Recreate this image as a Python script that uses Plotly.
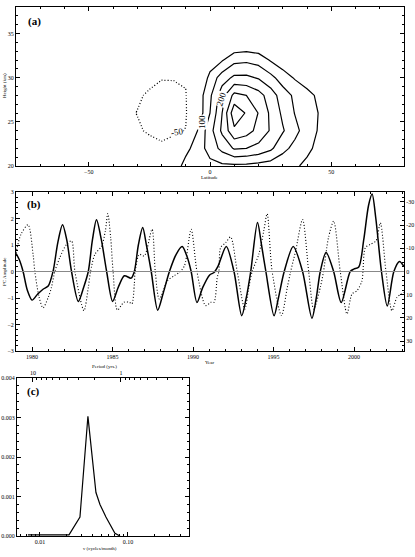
import plotly.graph_objects as go

# ---------------- Panel (a): contour field ----------------
LAT = [-80, -60, -40, -35, -30, -25, -20, -15, -10, -5, 0, 5, 10, 15, 20, 25, 30, 35, 40, 45, 50, 60, 80]
HGT = [20, 22, 24, 26, 28, 30, 32, 34, 36, 38]
Z_h20 = [10, 10, 5, 0, -10, -15, -15, 70, 118, 128, 135, 140, 140, 138, 132, 125, 115, 105, 92, 75, 60, 35, 15]
Z_h22 = [10, 5, -5, -15, -25, -35, -40, -25, 85, 125, 170, 215, 255, 250, 235, 210, 165, 135, 108, 90, 70, 40, 15]
Z_h24 = [10, 0, -20, -35, -45, -55, -65, -60, -48, 105, 180, 260, 340, 320, 285, 245, 205, 165, 125, 95, 80, 45, 15]
Z_h26 = [5, -5, -30, -42, -51, -65, -75, -70, -58, 65, 150, 250, 385, 345, 298, 240, 190, 148, 122, 98, 78, 45, 15]
Z_h28 = [5, -5, -25, -38, -45, -55, -68, -65, -55, 70, 140, 230, 315, 300, 270, 225, 175, 140, 115, 90, 70, 40, 15]
Z_h30 = [5, 0, -15, -25, -32, -40, -47, -47, -42, 40, 115, 175, 210, 210, 195, 165, 125, 95, 75, 60, 45, 30, 10]
Z_h32 = [5, 0, -8, -12, -18, -22, -25, -25, -20, 20, 70, 95, 135, 140, 130, 95, 70, 55, 45, 35, 30, 20, 10]
Z_h34 = [5, 0, -5, -8, -10, -12, -12, -10, -5, 10, 30, 45, 50, 55, 50, 40, 35, 30, 28, 25, 20, 15, 10]
Z_h36 = [5, 0, -3, -5, -5, -5, -5, -3, 0, 5, 15, 22, 25, 28, 25, 22, 20, 18, 16, 15, 12, 10, 8]
Z_h38 = [5, 0, 0, 0, 0, 0, 0, 0, 2, 5, 10, 12, 15, 15, 15, 12, 12, 10, 10, 10, 8, 8, 5]
ZGRID = [Z_h20, Z_h22, Z_h24, Z_h26, Z_h28, Z_h30, Z_h32, Z_h34, Z_h36, Z_h38]
CONTOUR_LABELS = ["100", "200", "-50"]

# ---------------- Panel (b): time series ----------------
PC_YEAR = [1979.0, 1979.2, 1979.44, 1979.7, 1980.0, 1980.35, 1980.68, 1981.0, 1981.3, 1981.6, 1981.89,
           1982.15, 1982.45, 1982.87, 1983.2, 1983.49, 1983.75, 1984.0, 1984.3, 1984.63, 1985.0, 1985.35,
           1985.73, 1986.15, 1986.35, 1986.6, 1986.87, 1987.1, 1987.4, 1987.8, 1988.15, 1988.53, 1988.95,
           1989.32, 1989.6, 1989.88, 1990.24, 1990.6, 1991.03, 1991.3, 1991.55, 1992.06, 1992.54, 1993.02,
           1993.3, 1993.58, 1994.0, 1994.25, 1994.52, 1995.03, 1995.3, 1995.66, 1996.22, 1996.8, 1997.38,
           1997.65, 1997.9, 1998.26, 1998.73, 1999.2, 1999.76, 1999.98, 2000.29, 2000.6, 2000.9, 2001.12,
           2001.35, 2001.7, 2002.06, 2002.47, 2002.82, 2003.08]
PC_AMP = [0.68, 0.45, 0.0, -0.7, -1.08, -0.85, -0.67, -0.55, 0.0, 1.1, 1.76,
          1.2, 0.0, -1.13, -0.6, 0.0, 1.2, 1.95, 1.2, 0.0, -1.13, -0.6,
          -0.16, -0.25, 0.0, 1.0, 1.66, 1.0, 0.0, -1.46, -0.8, 0.0, 0.65,
          0.94, 0.6, 0.0, -1.17, -0.6, -0.13, -0.04, 0.2, 0.94, 0.0, -1.67,
          -1.0, 0.0, 1.85, 1.0, 0.0, -1.67, -1.0, 0.0, 0.94, 0.0, -1.76,
          -1.0, 0.0, 0.72, 0.0, -1.17, 0.0, 0.09, 0.17, 1.2, 2.5, 2.92,
          2.0, 0.0, -1.3, 0.0, 0.38, 0.2]

IDX_YEAR = [1979.0, 1979.3, 1979.75, 1980.06, 1980.17, 1980.44, 1980.68, 1981.0, 1981.2, 1981.41, 1981.72,
            1982.14, 1982.45, 1982.66, 1983.22, 1983.49, 1983.63, 1983.9, 1984.32, 1984.55, 1984.7,
            1984.88, 1985.03, 1985.3, 1985.7, 1986.04, 1986.2, 1986.35, 1986.4, 1986.66, 1986.97, 1987.45,
            1987.65, 1987.9, 1988.41, 1988.83, 1989.14, 1989.46, 1989.88, 1990.24, 1990.78, 1991.1, 1991.3,
            1991.5, 1991.6, 1991.71, 1992.02, 1992.33, 1992.74, 1993.21, 1993.46, 1993.67, 1994.08, 1994.39,
            1994.6, 1994.91, 1995.49, 1995.85, 1996.06, 1996.37, 1996.8, 1997.18, 1997.49, 1997.9, 1998.1,
            1998.41, 1998.73, 1999.14, 1999.56, 1999.87, 2000.18, 2000.49, 2000.55, 2000.7, 2001.0, 2001.36,
            2001.63, 2001.98, 2002.35, 2002.66, 2002.93, 2003.08]
IDX_VAL = [-8, -15.9, -20.2, -7.4, 0, 11.2, 15.7, 11.2, 6.9, 0, -6,
           -11.7, -13.2, 0, 16.9, 6.9, 0, -7.4, -11, -17.5, -25,
           -14.6, 0, 16.6, 13.3, 13.3, 14, 5.4, 0, -7.4, -6.7, -18.2,
           0, 11.9, 4, 1.8, 0.4, -2.4, -18.2, 0, 14.7, 13.3, 13.3,
           2.6, 0, -10.3, -12.4, -14.9, 0, 16.2, 6.9, 0, -7.4, -17.5,
           -24.9, 0, 19, 6.9, 0, -8.9, -22.4, 0, 16.2, 6.9, 0,
           -14.6, -21.7, 0, 18.3, 9.7, 8.3, 4, 0, -10.3, -11.7, -13.2,
           -21, 0, 16.9, 11.2, 9.7, 9]

# ---------------- Panel (c): spectrum ----------------
FREQ = [0.0073, 0.0214, 0.0285, 0.0351, 0.0433, 0.0481, 0.0562, 0.0711, 0.0812]
POWER = [0.00003, 0.00003, 0.00048, 0.00303, 0.0011, 0.0008, 0.00048, 0.00007, 0.0]

PERIOD_TICKS = [10, 1]
PERIOD_MINOR = [9, 8, 7, 6, 5, 4, 3, 2, 0.9, 0.8, 0.7, 0.6, 0.5, 0.4, 0.3, 0.2]

W, H = 415, 557
SERIF = "Liberation Serif, Times New Roman, serif"
TF = dict(family=SERIF, size=6, color="black")


def dom_x(a, b):
    return [a / W, b / W]


def dom_y(top, bottom):
    return [1 - bottom / H, 1 - top / H]


fig = go.Figure()


def contour(start, end, size, dash):
    return go.Contour(
        x=LAT, y=HGT, z=ZGRID, xaxis="x", yaxis="y",
        autocontour=False,
        contours=dict(coloring="none", start=start, end=end, size=size, showlabels=False),
        line=dict(color="black", width=1.2, dash=dash, smoothing=0),
        showscale=False, hoverinfo="skip")


fig.add_trace(contour(100, 350, 50, "solid"))
fig.add_trace(contour(-50, -50, 50, "1px,2px"))

fig.add_trace(go.Scatter(x=PC_YEAR, y=PC_AMP, mode="lines", xaxis="x2", yaxis="y2",
                         line=dict(color="black", width=1.5, shape="spline", smoothing=0.8),
                         hoverinfo="skip"))
fig.add_trace(go.Scatter(x=IDX_YEAR, y=IDX_VAL, mode="lines", xaxis="x2", yaxis="y3",
                         line=dict(color="black", width=1.1, dash="1px,2px", shape="spline", smoothing=0.8),
                         hoverinfo="skip"))

fig.add_trace(go.Scatter(x=FREQ, y=POWER, mode="lines", xaxis="x3", yaxis="y4",
                         line=dict(color="black", width=1.2), hoverinfo="skip"))
# invisible trace so the top (period) axis of panel (c) is drawn
fig.add_trace(go.Scatter(x=FREQ, y=POWER, mode="lines", xaxis="x4", yaxis="y4",
                         line=dict(color="rgba(0,0,0,0)", width=0), hoverinfo="skip"))

base = dict(showgrid=False, zeroline=False, showline=True, linecolor="black", linewidth=1,
            ticks="inside", ticklen=4, tickcolor="black", tickwidth=1, tickfont=TF,
            automargin=False)

layout = dict(
    width=W, height=H, margin=dict(l=0, r=0, t=0, b=0),
    paper_bgcolor="white", plot_bgcolor="white", showlegend=False,
    font=dict(family=SERIF, color="black"),
    xaxis=dict(base, domain=dom_x(16, 404), anchor="y", range=[-80, 80],
               tickvals=[-50, 0, 50], mirror="ticks",
               minor=dict(ticks="inside", dtick=10, ticklen=2, tickcolor="black")),
    yaxis=dict(base, domain=dom_y(7, 166), anchor="x", range=[20, 38],
               tickvals=[20, 25, 30, 35], mirror="ticks",
               minor=dict(ticks="inside", dtick=1, ticklen=2, tickcolor="black")),
    xaxis2=dict(base, domain=dom_x(16, 404), anchor="y2", range=[1979.0, 2003.1],
                tickvals=[1980, 1985, 1990, 1995, 2000], mirror="ticks",
                minor=dict(ticks="inside", dtick=1, ticklen=2, tickcolor="black")),
    yaxis2=dict(base, domain=dom_y(192, 351), anchor="x2", range=[-3, 3],
                tickvals=[-3, -2, -1, 0, 1, 2, 3], mirror=True,
                minor=dict(ticks="inside", dtick=0.2, ticklen=2, tickcolor="black")),
    yaxis3=dict(base, overlaying="y2", anchor="x2", side="right", range=[34.3, -34.3],
                tickvals=[-30, -20, -10, 0, 10, 20, 30],
                ticktext=["-30", "-20", "-10", "0", "10", "20", "30"],
                minor=dict(ticks="inside", dtick=2, ticklen=2, tickcolor="black")),
    xaxis3=dict(base, domain=dom_x(17, 189), anchor="y4", type="log", range=[-2.26, -0.307],
                tickvals=[0.01, 0.1], ticktext=["0.01", "0.10"],
                minor=dict(ticks="inside", ticklen=2, tickcolor="black",
                           tickvals=[0.006, 0.007, 0.008, 0.009, 0.02, 0.03, 0.04, 0.05, 0.06,
                                     0.07, 0.08, 0.09, 0.2, 0.3, 0.4])),
    xaxis4=dict(base, overlaying="x3", anchor="y4", side="top", type="log", range=[-2.26, -0.307],
                tickvals=[1 / (12 * p) for p in PERIOD_TICKS],
                ticktext=[str(p) for p in PERIOD_TICKS], ticklabelstandoff=0,
                minor=dict(ticks="inside", ticklen=2, tickcolor="black",
                           tickvals=[1 / (12 * p) for p in PERIOD_MINOR])),
    yaxis4=dict(base, domain=dom_y(378, 536), anchor="x3", range=[0, 0.004],
                tickvals=[0, 0.001, 0.002, 0.003, 0.004],
                ticktext=["0.000", "0.001", "0.002", "0.003", "0.004"], mirror="ticks",
                minor=dict(ticks="inside", dtick=0.0002, ticklen=2, tickcolor="black")),
)
fig.update_layout(**layout)

# zero reference line in (b)
fig.add_shape(type="line", xref="x2 domain", yref="y2", x0=0, x1=1, y0=0, y1=0,
              line=dict(color="#888888", width=1.2))

ann = []


def txt(x, y, s, size=6, bold=False, angle=0):
    ann.append(dict(x=x / W, y=1 - y / H, xref="paper", yref="paper", text=("<b>%s</b>" % s) if bold else s,
                    showarrow=False, textangle=angle, xanchor="center", yanchor="middle",
                    font=dict(family=SERIF, size=size, color="black")))


def clabel(lat, hgt, s, angle):
    ann.append(dict(x=lat, y=hgt, xref="x", yref="y", text=s, showarrow=False, textangle=angle,
                    xanchor="center", yanchor="middle", bgcolor="white", borderpad=0,
                    font=dict(family=SERIF, size=9, color="black")))


clabel(-3.2, 25.0, CONTOUR_LABELS[0], -90)
clabel(4.6, 27.6, CONTOUR_LABELS[1], -72)
clabel(-13.5, 23.8, CONTOUR_LABELS[2], -10)

txt(34, 22, "(a)", 11, True)
txt(34, 205, "(b)", 11, True)
txt(33, 391, "(c)", 11, True)
txt(210, 177, "Latitude", 5)
txt(4, 86, "Height (km)", 5, angle=-90)
txt(210, 362, "Year", 5)
txt(4, 272, "PC Amplitude", 5, angle=-90)
txt(104, 366, "Period (yrs.)", 5)
txt(100, 548, "ν (cycles/month)", 5)
fig.update_layout(annotations=ann)

fig.write_html("out.html")
